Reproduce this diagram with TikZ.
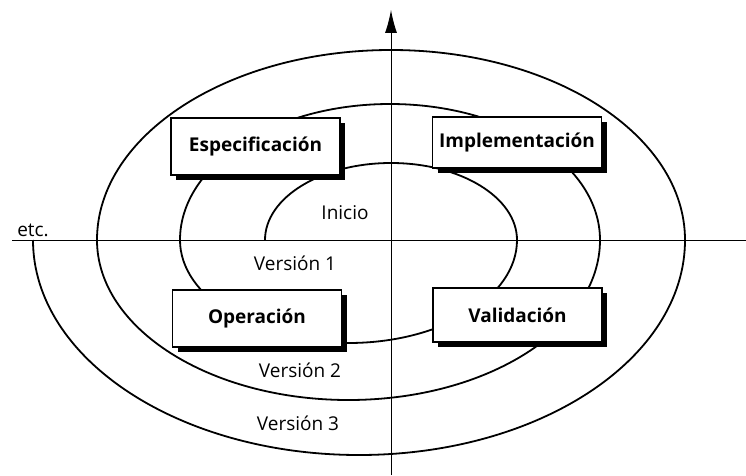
\documentclass[tikz,border=0pt]{standalone}
\usepackage{fontspec}
\setmainfont{Open Sans}
\usetikzlibrary{arrows.meta,shadows}

\begin{document}
\begin{tikzpicture}[x=1pt, y=1pt,
  phase/.style={draw, line width=1.9pt, fill=white, minimum width=169pt, minimum height=55pt,
    inner sep=2pt, font=\fontsize{19}{22}\selectfont\bfseries,
    drop shadow={shadow xshift=5pt, shadow yshift=-5pt, fill=black, opacity=1}},
  version/.style={font=\fontsize{19}{22}\selectfont},
  spiral/.style={line width=1.8pt},
  axis/.style={line width=0.9pt}]
  \useasboundingbox (0,0) rectangle (746,475);
  % axes
  \coordinate (west) at (12,235);
  \coordinate (east) at (746,235);
  \coordinate (south) at (391,0);
  \coordinate (north) at (391,465);
  \draw[axis] (west) -- (east);
  \draw[axis, -{Latex[length=23pt, width=12pt]}] (south) -- (north);
  % spiral of versions
  \coordinate (start) at (265,235);
  \draw[spiral] (start)
    arc[start angle=180, end angle=0, x radius=126, y radius=77]
    arc[start angle=0, end angle=-180, x radius=168.5, y radius=103]
    arc[start angle=180, end angle=0, x radius=210, y radius=136]
    arc[start angle=0, end angle=-180, x radius=251.5, y radius=160]
    arc[start angle=180, end angle=0, x radius=294, y radius=190]
    arc[start angle=0, end angle=-180, x radius=326, y radius=215];
  % phases
  \node[phase, minimum height=57pt] (esp) at (255.5,328.5) {Especificación};
  \node[phase, minimum height=51pt] (imp) at (517,332.5) {Implementación};
  \node[phase, minimum height=57pt] (ope) at (257,156.5) {Operación};
  \node[phase, minimum height=54pt] (val) at (517.5,160) {Validación};
  % labels
  \node[version] (ini) at (345,262) {Inicio};
  \node[version] (v1) at (295,212) {Versión 1};
  \node[version] (v2) at (300,105) {Versión 2};
  \node[version] (v3) at (298,52) {Versión 3};
  \node[version] (etc) at (33,245) {etc.};
\end{tikzpicture}
\end{document}
